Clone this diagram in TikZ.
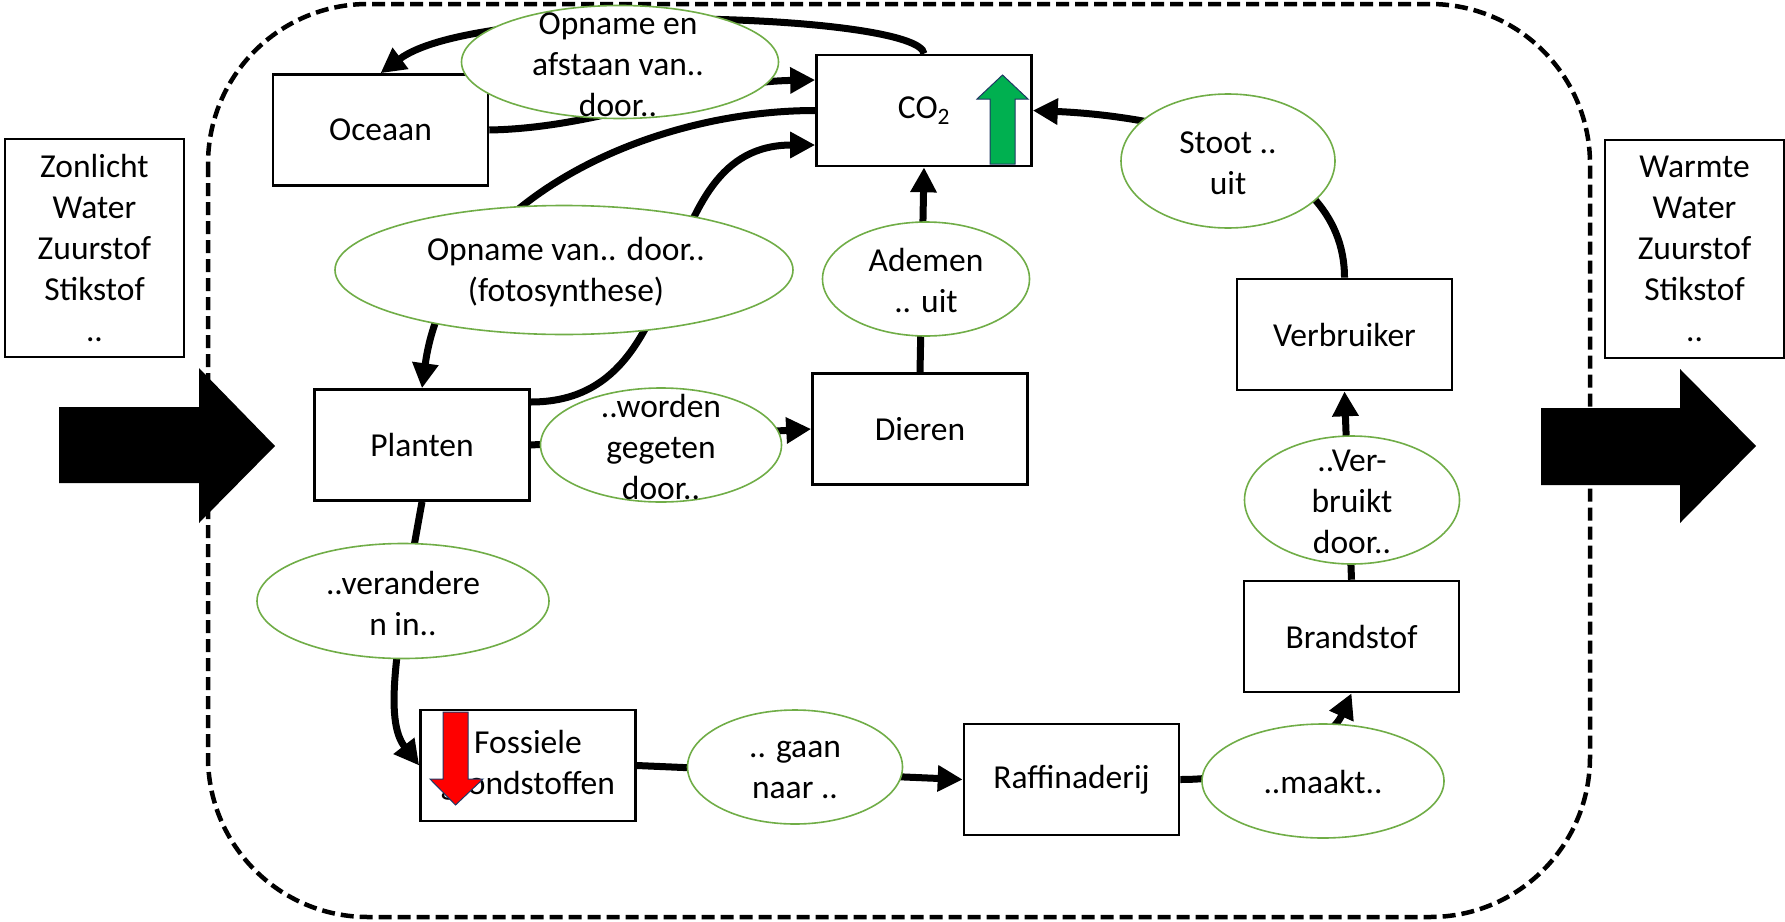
\documentclass[tikz,border=0pt]{standalone}
\usepackage{fontspec}
\setmainfont{Carlito}
\usetikzlibrary{arrows.meta,shapes.geometric}
\pgfdeclarelayer{bg}
\pgfsetlayers{bg,main}
\definecolor{bgreen}{HTML}{70AD47}
\definecolor{upgreen}{HTML}{00B050}
\definecolor{navyline}{HTML}{203864}
\newcommand\lblfont{\fontsize{33.5}{41}\selectfont}
\begin{document}
\begin{tikzpicture}[x=1pt,y=-1pt,
  box/.style={draw, line width=2.6pt, fill=white, minimum width=215pt, minimum height=111pt, inner sep=0pt, align=center, font=\lblfont},
  sidebox/.style={draw, line width=1.6pt, fill=white, minimum width=179pt, minimum height=218pt, inner sep=0pt, align=center, font=\lblfont},
  bubble/.style={ellipse, draw=bgreen, line width=1.6pt, fill=white, inner sep=0pt},
  lbl/.style={inner sep=0pt, align=center, font=\lblfont},
  conn/.style={draw=black, line width=7pt},
  arr/.style={-{Triangle[length=25pt,width=25pt]}},
  dborder/.style={draw=black, line width=4.5pt, dash pattern=on 13pt off 6pt, rounded corners=160pt}
]
\useasboundingbox (0,0) rectangle (1785,921);

% boxes
\node[box] (oce) at (380.5,130) {Oceaan};
\node[box] (co2) at (924,110.5) {CO\textsubscript{2}};
\node[box] (pla) at (422,445) {Planten};
\node[box] (die) at (920,429) {Dieren};
\node[box] (ver) at (1344.5,334.5) {Verbruiker};
\node[box] (bra) at (1351.5,636.5) {Brandstof};
\node[box] (raf) at (1071.5,779.5) {Raffinaderij};
\node[box] (fos) at (528,765.5) {Fossiele\\grondstoffen};
\node[sidebox] (inp) at (94.5,248) {Zonlicht\\Water\\Zuurstof\\Stikstof\\..};
\node[sidebox] (outp) at (1694.5,249) {Warmte\\Water\\Zuurstof\\Stikstof\\..};

% ellipses
\node[bubble, minimum width=317pt, minimum height=113pt] (e1) at (620,62) {};
\node[lbl] (t1) at (618,65) {Opname en\\afstaan van..\\door..};
\node[bubble, minimum width=458pt, minimum height=129pt] (e2) at (564,270) {};
\node[lbl] (t2) at (566,272) {Opname van.. door..\\(fotosynthese)};
\node[bubble, minimum width=241pt, minimum height=114pt] (e3) at (661,445) {};
\node[lbl] (t3) at (661,447) {..worden\\gegeten\\door..};
\node[bubble, minimum width=207pt, minimum height=114pt] (e4) at (926,279) {};
\node[lbl] (t4) at (926,280) {Ademen\\.. uit};
\node[bubble, minimum width=214pt, minimum height=134pt] (e5) at (1228,161) {};
\node[lbl] (t5) at (1228,163) {Stoot ..\\uit};
\node[bubble, minimum width=215pt, minimum height=128pt] (e6) at (1352,500) {};
\node[lbl] (t6) at (1352,502) {..Ver-\\bruikt\\door..};
\node[bubble, minimum width=242pt, minimum height=114pt] (e7) at (1323,781) {};
\node[lbl] (t7) at (1323,782) {..maakt..};
\node[bubble, minimum width=215pt, minimum height=114pt] (e8) at (795,767) {};
\node[lbl] (t8) at (795,770) {.. gaan\\naar ..};
\node[bubble, minimum width=292pt, minimum height=115pt] (e9) at (403,601) {};
\node[lbl] (t9) at (403,603) {..verandere\\n in..};

% trend arrows
\filldraw[fill=upgreen, draw=navyline, line width=1pt] (990,164) -- (990,99) -- (977,99) -- (1002.5,75) -- (1028,99) -- (1015,99) -- (1015,164) -- cycle;
\filldraw[fill=red, draw=navyline, line width=1pt] (443,712) -- (468,712) -- (468,779) -- (483,779) -- (455.5,805) -- (430,779) -- (443,779) -- cycle;

% big in/out arrows
\fill (59,407) -- (199,407) -- (199,368) -- (275,446) -- (199,523) -- (199,483) -- (59,483) -- cycle;
\fill (1541,408) -- (1680,408) -- (1680,369) -- (1756,446) -- (1680,523) -- (1680,485) -- (1541,485) -- cycle;

\begin{pgfonlayer}{bg}
\path[dborder] (208,4) rectangle (1590,917);
\draw[conn,arr] (co2.north) .. controls +(-4,-40) and +(99.5,-74) .. (oce.north);
\draw[conn,arr] (oce.east) .. controls +(112,-2) and +(-117,2) .. ([yshift=30.5pt]co2.west);
\draw[conn,arr] (co2.west) .. controls +(-170,0) and +(25,-185) .. (pla.north);
\draw[conn,arr] ([yshift=43pt]pla.east) .. controls +(170,0) and +(-170,0) .. ([yshift=-34.5pt]co2.west);
\draw[conn,arr] (pla.east) -- (die.west);
\draw[conn,arr] (die.north) -- (co2.south);
\draw[conn,arr] (ver.north) .. controls +(0,-130) and +(120,5) .. (co2.east);
\draw[conn,arr] (bra.north) -- (ver.south);
\draw[conn,arr] (raf.east) .. controls +(90,0) and +(-20,45) .. (bra.south);
\draw[conn,arr] (fos.east) -- (raf.west);
\draw[conn,arr] (pla.south) .. controls +(-27,149) and +(-35,-45) .. (fos.west);
\end{pgfonlayer}
\end{tikzpicture}
\end{document}
